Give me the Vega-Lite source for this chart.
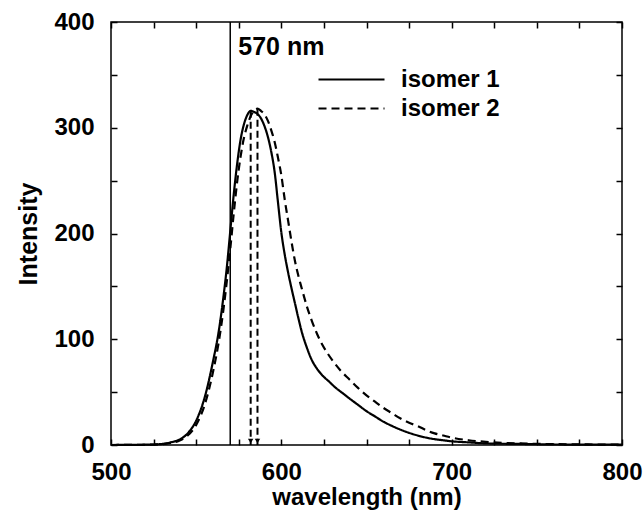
{
  "$schema": "https://vega.github.io/schema/vega-lite/v6.json",
  "width": 511,
  "height": 423,
  "autosize": {"type": "none"},
  "padding": {"left": 111, "top": 22, "right": 21, "bottom": 66},
  "background": "white",
  "config": {
    "font": "Liberation Sans",
    "view": {"stroke": "black", "strokeWidth": 1.5},
    "axis": {
      "domain": false,
      "grid": false,
      "tickColor": "black",
      "tickWidth": 1.5,
      "tickSize": -6,
      "labelFont": "Liberation Sans",
      "labelFontSize": 24,
      "labelFontWeight": "bold",
      "labelColor": "black",
      "titleFont": "Liberation Sans",
      "titleFontSize": 25,
      "titleFontWeight": "bold",
      "titleColor": "black"
    }
  },
  "datasets": {
    "spectra": [
      {"series": "isomer 1", "wl": 500, "intensity": 0},
      {"series": "isomer 1", "wl": 520, "intensity": 0.3},
      {"series": "isomer 1", "wl": 530, "intensity": 1},
      {"series": "isomer 1", "wl": 535, "intensity": 2.5},
      {"series": "isomer 1", "wl": 540, "intensity": 5},
      {"series": "isomer 1", "wl": 545, "intensity": 11},
      {"series": "isomer 1", "wl": 550, "intensity": 23},
      {"series": "isomer 1", "wl": 555, "intensity": 45},
      {"series": "isomer 1", "wl": 560, "intensity": 80},
      {"series": "isomer 1", "wl": 563, "intensity": 105},
      {"series": "isomer 1", "wl": 566, "intensity": 140},
      {"series": "isomer 1", "wl": 568, "intensity": 168},
      {"series": "isomer 1", "wl": 570, "intensity": 202},
      {"series": "isomer 1", "wl": 572, "intensity": 236},
      {"series": "isomer 1", "wl": 574, "intensity": 265},
      {"series": "isomer 1", "wl": 576, "intensity": 288},
      {"series": "isomer 1", "wl": 578, "intensity": 303},
      {"series": "isomer 1", "wl": 580, "intensity": 312},
      {"series": "isomer 1", "wl": 582, "intensity": 316},
      {"series": "isomer 1", "wl": 584, "intensity": 315},
      {"series": "isomer 1", "wl": 586, "intensity": 313},
      {"series": "isomer 1", "wl": 588, "intensity": 309},
      {"series": "isomer 1", "wl": 590, "intensity": 302},
      {"series": "isomer 1", "wl": 592, "intensity": 292},
      {"series": "isomer 1", "wl": 594, "intensity": 278},
      {"series": "isomer 1", "wl": 596, "intensity": 259},
      {"series": "isomer 1", "wl": 598, "intensity": 230},
      {"series": "isomer 1", "wl": 600, "intensity": 201},
      {"series": "isomer 1", "wl": 602, "intensity": 180},
      {"series": "isomer 1", "wl": 604, "intensity": 163},
      {"series": "isomer 1", "wl": 606, "intensity": 148},
      {"series": "isomer 1", "wl": 608, "intensity": 134},
      {"series": "isomer 1", "wl": 610, "intensity": 120},
      {"series": "isomer 1", "wl": 612, "intensity": 107},
      {"series": "isomer 1", "wl": 615, "intensity": 92},
      {"series": "isomer 1", "wl": 618, "intensity": 80},
      {"series": "isomer 1", "wl": 621, "intensity": 72},
      {"series": "isomer 1", "wl": 624, "intensity": 66},
      {"series": "isomer 1", "wl": 628, "intensity": 60},
      {"series": "isomer 1", "wl": 632, "intensity": 54},
      {"series": "isomer 1", "wl": 636, "intensity": 49},
      {"series": "isomer 1", "wl": 640, "intensity": 44},
      {"series": "isomer 1", "wl": 645, "intensity": 38},
      {"series": "isomer 1", "wl": 650, "intensity": 32},
      {"series": "isomer 1", "wl": 655, "intensity": 27},
      {"series": "isomer 1", "wl": 660, "intensity": 22},
      {"series": "isomer 1", "wl": 665, "intensity": 18},
      {"series": "isomer 1", "wl": 670, "intensity": 14.5},
      {"series": "isomer 1", "wl": 675, "intensity": 11.5},
      {"series": "isomer 1", "wl": 680, "intensity": 9},
      {"series": "isomer 1", "wl": 685, "intensity": 7},
      {"series": "isomer 1", "wl": 690, "intensity": 5.5},
      {"series": "isomer 1", "wl": 695, "intensity": 4.5},
      {"series": "isomer 1", "wl": 700, "intensity": 3.5},
      {"series": "isomer 1", "wl": 710, "intensity": 2.5},
      {"series": "isomer 1", "wl": 720, "intensity": 1.5},
      {"series": "isomer 1", "wl": 740, "intensity": 1},
      {"series": "isomer 1", "wl": 760, "intensity": 0.5},
      {"series": "isomer 1", "wl": 800, "intensity": 0.3},
      {"series": "isomer 2", "wl": 500, "intensity": 0},
      {"series": "isomer 2", "wl": 520, "intensity": 0.2},
      {"series": "isomer 2", "wl": 530, "intensity": 0.8},
      {"series": "isomer 2", "wl": 535, "intensity": 2},
      {"series": "isomer 2", "wl": 540, "intensity": 4},
      {"series": "isomer 2", "wl": 545, "intensity": 9},
      {"series": "isomer 2", "wl": 550, "intensity": 19},
      {"series": "isomer 2", "wl": 555, "intensity": 38},
      {"series": "isomer 2", "wl": 560, "intensity": 70},
      {"series": "isomer 2", "wl": 563, "intensity": 95},
      {"series": "isomer 2", "wl": 566, "intensity": 128},
      {"series": "isomer 2", "wl": 568, "intensity": 155},
      {"series": "isomer 2", "wl": 570, "intensity": 185},
      {"series": "isomer 2", "wl": 572, "intensity": 218},
      {"series": "isomer 2", "wl": 574, "intensity": 248},
      {"series": "isomer 2", "wl": 576, "intensity": 272},
      {"series": "isomer 2", "wl": 578, "intensity": 290},
      {"series": "isomer 2", "wl": 580, "intensity": 302},
      {"series": "isomer 2", "wl": 582, "intensity": 311},
      {"series": "isomer 2", "wl": 584, "intensity": 316},
      {"series": "isomer 2", "wl": 586, "intensity": 318},
      {"series": "isomer 2", "wl": 588, "intensity": 316},
      {"series": "isomer 2", "wl": 590, "intensity": 313},
      {"series": "isomer 2", "wl": 592, "intensity": 307},
      {"series": "isomer 2", "wl": 594, "intensity": 298},
      {"series": "isomer 2", "wl": 596, "intensity": 287},
      {"series": "isomer 2", "wl": 598, "intensity": 272},
      {"series": "isomer 2", "wl": 600, "intensity": 255},
      {"series": "isomer 2", "wl": 602, "intensity": 232},
      {"series": "isomer 2", "wl": 604, "intensity": 212},
      {"series": "isomer 2", "wl": 606, "intensity": 192},
      {"series": "isomer 2", "wl": 608, "intensity": 174},
      {"series": "isomer 2", "wl": 610, "intensity": 160},
      {"series": "isomer 2", "wl": 612, "intensity": 148},
      {"series": "isomer 2", "wl": 615, "intensity": 131},
      {"series": "isomer 2", "wl": 618, "intensity": 117},
      {"series": "isomer 2", "wl": 621, "intensity": 105},
      {"series": "isomer 2", "wl": 624, "intensity": 95},
      {"series": "isomer 2", "wl": 627, "intensity": 87},
      {"series": "isomer 2", "wl": 630, "intensity": 80},
      {"series": "isomer 2", "wl": 635, "intensity": 70},
      {"series": "isomer 2", "wl": 640, "intensity": 62},
      {"series": "isomer 2", "wl": 645, "intensity": 54},
      {"series": "isomer 2", "wl": 650, "intensity": 47},
      {"series": "isomer 2", "wl": 655, "intensity": 41},
      {"series": "isomer 2", "wl": 660, "intensity": 35},
      {"series": "isomer 2", "wl": 665, "intensity": 30},
      {"series": "isomer 2", "wl": 670, "intensity": 25},
      {"series": "isomer 2", "wl": 675, "intensity": 21},
      {"series": "isomer 2", "wl": 680, "intensity": 18},
      {"series": "isomer 2", "wl": 685, "intensity": 14},
      {"series": "isomer 2", "wl": 690, "intensity": 11},
      {"series": "isomer 2", "wl": 695, "intensity": 9},
      {"series": "isomer 2", "wl": 700, "intensity": 7},
      {"series": "isomer 2", "wl": 710, "intensity": 4.5},
      {"series": "isomer 2", "wl": 720, "intensity": 3},
      {"series": "isomer 2", "wl": 730, "intensity": 2},
      {"series": "isomer 2", "wl": 740, "intensity": 1.5},
      {"series": "isomer 2", "wl": 760, "intensity": 0.8},
      {"series": "isomer 2", "wl": 780, "intensity": 0.5},
      {"series": "isomer 2", "wl": 800, "intensity": 0.3}
    ],
    "peaks": [
      {"series": "isomer 1", "wl": 582, "base": 0, "peak": 316},
      {"series": "isomer 2", "wl": 586, "base": 0, "peak": 318}
    ],
    "marker": [
      {"wl": 570, "label": "570 nm", "labelY": 376}
    ]
  },
  "layer": [
    {
      "data": {"name": "spectra"},
      "mark": {"type": "line", "color": "black", "strokeWidth": 2.2, "interpolate": "monotone"},
      "encoding": {
        "x": {
          "field": "wl", "type": "quantitative",
          "scale": {"domain": [500, 800], "nice": false, "zero": false},
          "axis": {
            "orient": "bottom",
            "values": [500, 525, 550, 575, 600, 625, 650, 675, 700, 725, 750, 775, 800],
            "labelExpr": "datum.value % 100 === 0 ? datum.label : ''",
            "labelPadding": 21,
            "labelFlush": false,
            "title": "wavelength (nm)",
            "titleFontSize": 24,
            "titlePadding": 1
          }
        },
        "y": {
          "field": "intensity", "type": "quantitative",
          "scale": {"domain": [0, 400], "nice": false},
          "axis": {
            "orient": "left",
            "values": [0, 50, 100, 150, 200, 250, 300, 350, 400],
            "labelExpr": "datum.value % 100 === 0 ? datum.label : ''",
            "labelPadding": 23,
            "labelFlush": false,
            "title": "Intensity",
            "titlePadding": 12
          }
        },
        "strokeDash": {
          "field": "series", "type": "nominal",
          "scale": {"domain": ["isomer 1", "isomer 2"], "range": [[1, 0], [8, 5]]},
          "legend": {
            "orient": "none",
            "legendX": 228,
            "legendY": 45,
            "title": null,
            "symbolType": "M-3,0H3",
            "symbolSize": 484,
            "symbolStrokeWidth": 2.2,
            "symbolStrokeColor": "black",
            "symbolFillColor": "transparent",
            "labelFont": "Liberation Sans",
            "labelFontSize": 24,
            "labelFontWeight": "bold",
            "labelColor": "black",
            "labelOffset": 37,
            "rowPadding": 4
          }
        }
      }
    },
    {
      "data": {"name": "marker"},
      "mark": {"type": "rule", "color": "black", "strokeWidth": 1.5},
      "encoding": {
        "x": {
          "field": "wl", "type": "quantitative",
          "axis": {
            "orient": "top",
            "values": [500, 525, 550, 575, 600, 625, 650, 675, 700, 725, 750, 775, 800],
            "labels": false,
            "title": null
          }
        }
      }
    },
    {
      "data": {"name": "marker"},
      "mark": {"type": "text", "align": "left", "baseline": "middle", "dx": 8, "fontSize": 25, "fontWeight": "bold", "font": "Liberation Sans", "color": "black"},
      "encoding": {
        "x": {"field": "wl", "type": "quantitative", "axis": null},
        "y": {"field": "labelY", "type": "quantitative", "axis": null},
        "text": {"field": "label"}
      }
    },
    {
      "data": {"name": "peaks"},
      "mark": {"type": "rule", "color": "black", "strokeWidth": 2, "strokeDash": [7, 4]},
      "encoding": {
        "x": {"field": "wl", "type": "quantitative", "axis": null},
        "y": {"field": "peak", "type": "quantitative",
          "axis": {
            "orient": "right",
            "values": [0, 50, 100, 150, 200, 250, 300, 350, 400],
            "labels": false,
            "title": null
          }
        },
        "y2": {"field": "base"}
      }
    },
    {
      "data": {"name": "peaks"},
      "mark": {"type": "point", "shape": "triangle-down", "filled": true, "color": "black", "size": 30, "opacity": 1, "yOffset": -4},
      "encoding": {
        "x": {"field": "wl", "type": "quantitative", "axis": null},
        "y": {"field": "base", "type": "quantitative", "axis": null}
      }
    }
  ],
  "resolve": {"axis": {"x": "independent", "y": "independent"}}
}
